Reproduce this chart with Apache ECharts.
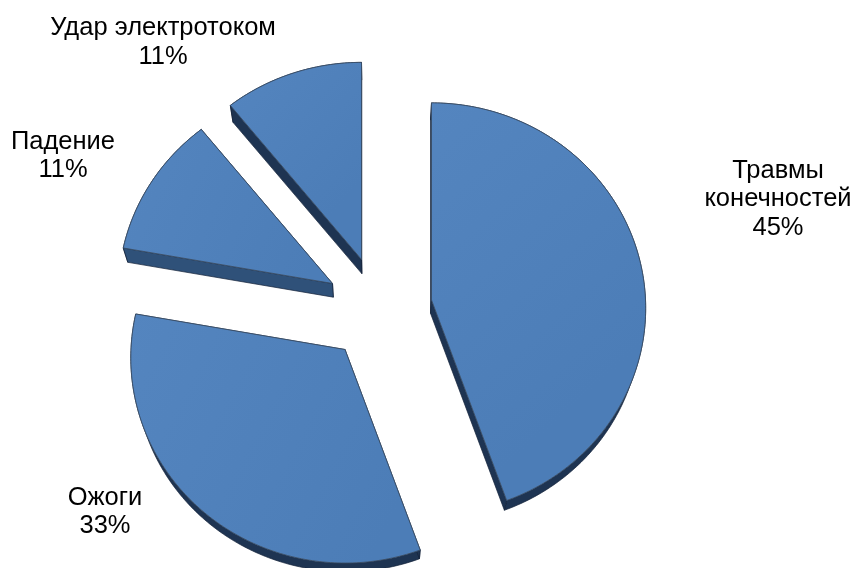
<!DOCTYPE html>
<html>
<head>
<meta charset="utf-8">
<style>html,body{margin:0;padding:0;background:#fff}#chart{width:855px;height:568px}</style>
<script src="https://cdn.jsdelivr.net/npm/echarts@6/dist/echarts.min.js"></script>
</head>
<body>
<div id="chart"></div>
<script>
// Injury causes, percent of the total
const categories = ['Травмы\nконечностей', 'Ожоги', 'Падение', 'Удар электротоком'];
const shares = [45, 33, 11, 11];

// Exploded slice tips and label centres, in pixels
const sliceTips = [[431.5, 300], [345, 349.5], [332.5, 283.5], [361.5, 259.5]];
const labelCentres = [[778, 199], [105, 512], [63, 156], [163, 42.5]];

// Tilted-disc projection
const RX = 214, RY = 205, PERSPECTIVE = 0.04;
const NEAR_WARP = 3 * Math.PI / 180, FAR_WARP = 1.1 * Math.PI / 180;
const VANISH = [378, 1044], DEPTH_SCALE = 0.982;
const total = shares.reduce((a, b) => a + b, 0);

function rim(theta) {
  // the rim is foreshortened unevenly by the tilt
  let t = theta;
  if (theta > Math.PI / 2 && theta < Math.PI * 1.5) t = theta + NEAR_WARP * Math.sin(2 * theta);
  else if (theta >= Math.PI * 1.5) t = theta - FAR_WARP * Math.sin(4 * theta);
  const X = Math.sin(t), Y = Math.cos(t);
  const f = 1 / (1 + PERSPECTIVE * Y);
  return [RX * X * f, -RY * Y * f];
}
function lower(p) {
  return [VANISH[0] + (p[0] - VANISH[0]) * DEPTH_SCALE, VANISH[1] + (p[1] - VANISH[1]) * DEPTH_SCALE];
}
function side(points, fill) {
  return {
    type: 'polygon',
    shape: { points: points.concat(points.map(lower).reverse()) },
    style: { fill: fill, stroke: '#14233a', lineWidth: 0.7, lineJoin: 'round' }
  };
}

function renderSlice(params, api) {
  const i = params.dataIndex;
  const value = api.value(0);
  const before = shares.slice(0, i).reduce((a, b) => a + b, 0);
  const start = before / total * Math.PI * 2;
  const end = (before + value) / total * Math.PI * 2;
  const tip = sliceTips[i];
  const arc = [];
  const steps = Math.ceil((end - start) / 0.015);
  for (let s = 0; s <= steps; s++) {
    const p = rim(start + (end - start) * s / steps);
    arc.push([tip[0] + p[0], tip[1] + p[1]]);
  }
  const first = arc[0], last = arc[arc.length - 1];
  const flat = (a, b) => Math.abs(b[1] - a[1]) < 0.3 * Math.abs(b[0] - a[0]);
  // faces turned towards the viewer are lighter and go on top of the darker ones
  const cuts = [[tip, first], [tip, last]].sort((a, b) => flat(a[0], a[1]) - flat(b[0], b[1]));
  return {
    type: 'group',
    children: [
      side(arc, '#1e3452'),
      side(cuts[0], flat(cuts[0][0], cuts[0][1]) ? '#2f5179' : '#1e3452'),
      side(cuts[1], flat(cuts[1][0], cuts[1][1]) ? '#2f5179' : '#1e3452'),
      {
        type: 'polygon',
        shape: { points: [tip].concat(arc) },
        style: {
          fill: {
            type: 'linear', x: 0, y: 0, x2: 1, y2: 0.6,
            colorStops: [{ offset: 0, color: '#5485bf' }, { offset: 1, color: '#4c7db7' }]
          },
          stroke: '#3a4e66', lineWidth: 0.9, lineJoin: 'round'
        }
      },
      {
        type: 'text',
        style: {
          x: labelCentres[i][0], y: labelCentres[i][1],
          text: categories[i] + '\n' + value + '%',
          fill: '#000', font: '25.5px "Liberation Sans", Arial, sans-serif',
          lineHeight: 28.5, align: 'center', verticalAlign: 'middle'
        }
      }
    ]
  };
}

const chart = echarts.init(document.getElementById('chart'), null, { renderer: 'canvas' });
chart.setOption({
  animation: false,
  backgroundColor: '#fff',
  series: [{
    type: 'custom',
    coordinateSystem: 'none',
    renderItem: renderSlice,
    data: shares.map((v, i) => ({ name: categories[i], value: [v] }))
  }]
});
</script>
</body>
</html>
